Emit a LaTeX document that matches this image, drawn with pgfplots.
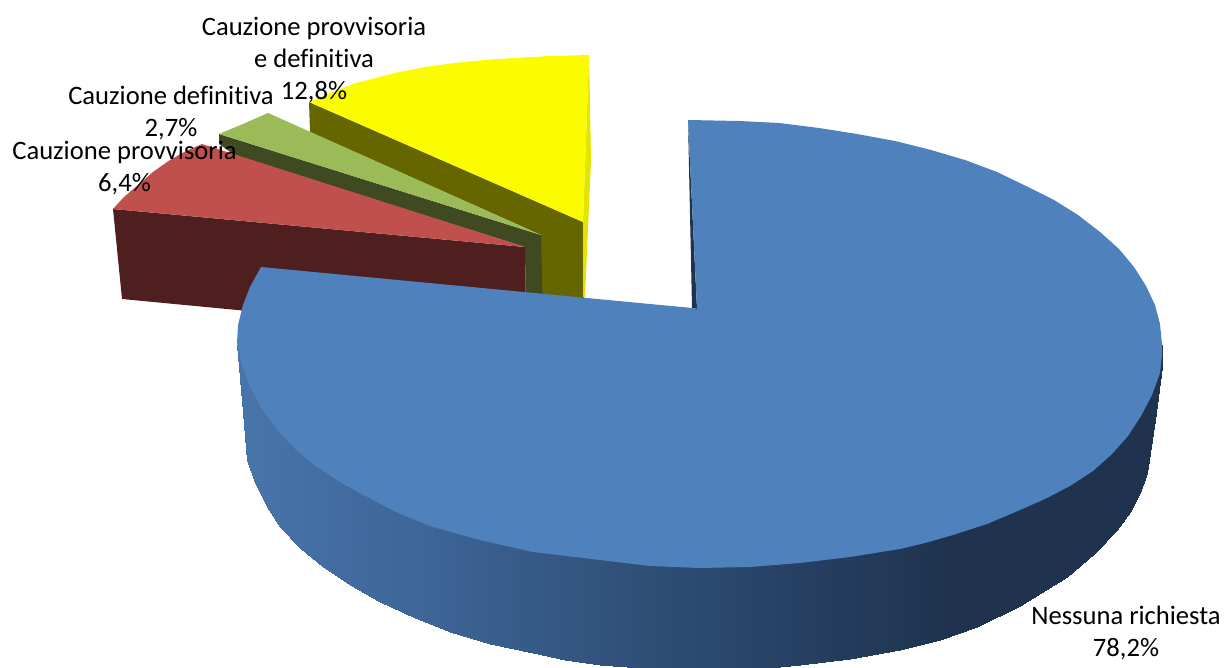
\documentclass[border=0pt]{standalone}
\usepackage{fontspec}
\setmainfont[Ligatures=NoCommon]{Carlito}
\usepackage{pgfplots}
\pgfplotsset{compat=1.18}
\definecolor{pieblue}{RGB}{79,129,189}
\definecolor{piered}{RGB}{192,80,77}
\definecolor{piereddark}{RGB}{79,31,31}
\definecolor{piegreen}{RGB}{155,187,89}
\definecolor{piegreendark}{RGB}{63,74,34}
\definecolor{pieyellow}{RGB}{252,252,0}
\definecolor{pieyellowside}{RGB}{228,228,0}
\definecolor{pieolive}{RGB}{102,102,0}
\definecolor{pienavy}{RGB}{31,51,78}
\tikzset{pielabel/.style={font=\fontsize{26.6}{32}\selectfont, align=center, inner sep=0pt, text=black}}
\begin{document}
\begin{tikzpicture}
\useasboundingbox (0,0) rectangle (1226pt,668pt);
\begin{axis}[
  at={(0,0)}, anchor=south west,
  width=1226pt, height=668pt, scale only axis,
  xmin=0, xmax=1226, ymin=0, ymax=668,
  y dir=reverse, hide axis,
  colormap={wall}{rgb255(0pt)=(72,117,170) rgb255(193pt)=(61,101,151) rgb255(363pt)=(50,83,125) rgb255(563pt)=(38,64,98) rgb255(713pt)=(31,51,78) rgb255(925pt)=(31,51,78)},
  point meta min=237, point meta max=1162,
]
% both deposits: yellow slice
\addplot[fill=pieolive, draw=none] coordinates {(309,102) (583,222) (584,320) (541,320) (541,235) (310,132)} --cycle;
\addplot[fill=pieyellowside, draw=none] coordinates {(589,55) (591,160) (585,297) (583,297) (583,222)} --cycle;
\addplot[fill=pieyellow, draw=none] coordinates {(309,102) (330,93) (356,83) (395,73) (425,67) (455,63) (485,60) (514,58) (550,56) (589,55) (583,222)} --cycle;
% definitiva: green slice
\addplot[fill=piegreendark, draw=none] coordinates {(219,134) (541,235) (543,320) (526,320) (525,247) (236,156) (219,144)} --cycle;
\addplot[fill=piegreen, draw=none] coordinates {(268,113) (541,235) (219,134) (243,124)} --cycle;
% provvisoria: red slice
\addplot[fill=piereddark, draw=none] coordinates {(113,209) (525,247) (526,320) (300,316) (122,299)} --cycle;
\addplot[fill=piered, draw=none] coordinates {(202,144) (525,247) (113,209) (124,197) (138,185) (153,172) (170,160) (186,151)} --cycle;
% blue outer wall, coloured by x
\addplot[surf, shader=interp, mesh/rows=2, point meta=x] coordinates {
(237,345) (242,401) (247,460) (255,483) (267,507) (280,527) (300,548) (323,567) (350,585) (380,602) (415,618) (450,632) (490,644) (533,653) (565,660) (600,665) (640,668) (680,670) (720,670) (760,669) (800,665) (850,659) (900,650) (940,640) (977,627) (1020,606) (1067,577) (1095,553) (1117,530) (1130,512) (1140,493) (1147,473) (1155,420) (1162,367)

(237,345) (242,345) (247,345) (255,345) (267,345) (280,345) (300,345) (323,345) (350,345) (380,345) (415,345) (450,345) (490,345) (533,345) (565,345) (600,345) (640,345) (680,345) (720,345) (760,345) (800,345) (850,345) (900,345) (940,345) (977,345) (1020,345) (1067,345) (1095,345) (1117,345) (1130,345) (1140,345) (1147,345) (1155,345) (1162,345)
};
% inner wall next to the gap
\addplot[fill=pienavy, draw=none] coordinates {(688,120) (692,308) (697,309)} --cycle;
% blue top
\addplot[fill=pieblue, draw=none] coordinates {
(688,120) (739,121) (779,123) (819,128) (857,134) (895,141) (931,150) (965,160) (997,172) (1026,186) (1054,200) (1078,215) (1100,232) (1119,249) (1134,267) (1146,286) (1155,305) (1160,324) (1162,344) (1162,355) (1160,373) (1152,395) (1141,416) (1128,436) (1112,454) (1093,471) (1070,486) (1045,499) (1020,510) (987,524) (953,535) (925,543) (900,549) (850,557) (800,563) (750,567) (700,568) (650,566) (600,560) (533,552) (480,540) (433,527) (400,514) (373,500) (345,485) (317,467) (295,449) (277,430) (262,409) (250,387) (242,365) (237,343) (238,325) (243,305) (250,287) (261,267) (692,308) (697,309)} --cycle;
% labels
\node[pielabel] at (axis cs:314,60) {Cauzione provvisoria\\e definitiva\\12,8\%};
\node[pielabel] at (axis cs:171,113) {Cauzione definitiva\\2,7\%};
\node[pielabel] at (axis cs:124.5,168) {Cauzione provvisoria\\6,4\%};
\node[pielabel] at (axis cs:1126,633) {Nessuna richiesta\\78,2\%};
\end{axis}
\end{tikzpicture}
\end{document}
